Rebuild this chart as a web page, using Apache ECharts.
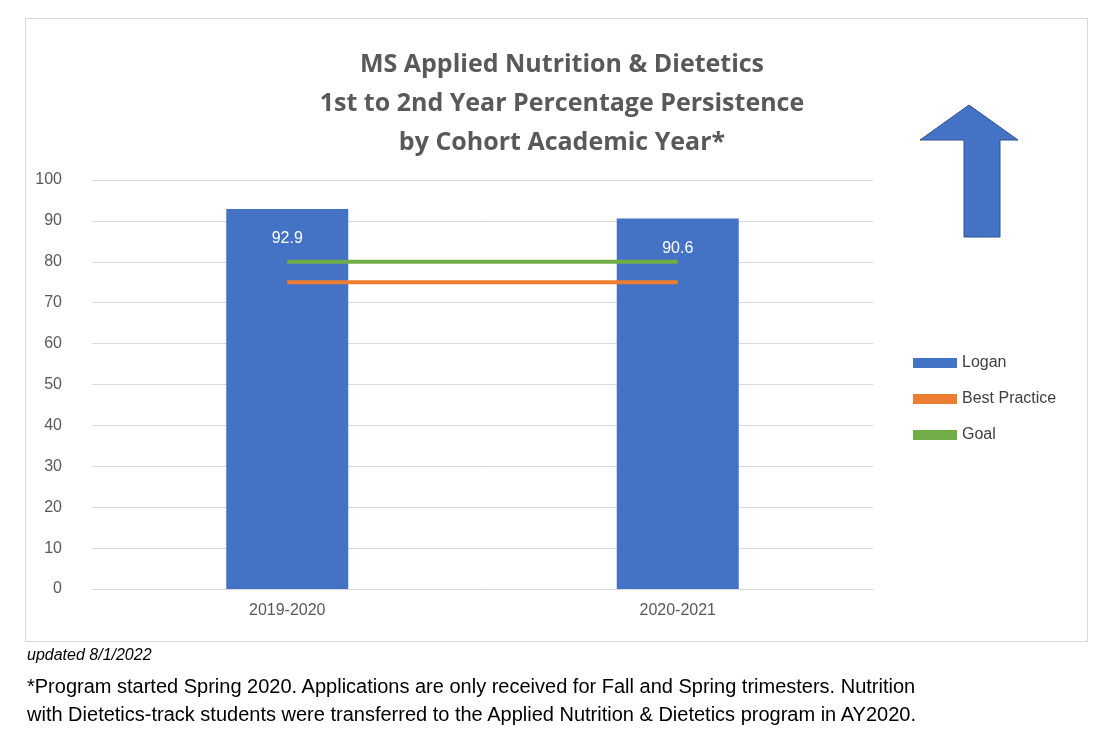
<!DOCTYPE html>
<html><head><meta charset="utf-8">
<script src="https://cdn.jsdelivr.net/npm/echarts@6/dist/echarts.min.js"></script>
<style>body{margin:0;background:#fff;font-family:Calibri,Carlito,'Liberation Sans',sans-serif}
#box{position:absolute;left:25px;top:18px;width:1061px;height:622px;border:1px solid #d9d9d9}
#c{position:absolute;left:0;top:0;width:1116px;height:751px}
.t{position:absolute;left:27px;color:#000;font-family:'Liberation Sans',Arial,sans-serif}
</style></head><body>
<div id="box"></div>
<div id="c"></div>
<div class="t" style="top:646px;font-size:16px;font-style:italic">updated 8/1/2022</div>
<div class="t" style="top:672px;font-size:20px;line-height:28px">*Program started Spring 2020. Applications are only received for Fall and Spring trimesters. Nutrition<br>with Dietetics-track students were transferred to the Applied Nutrition &amp; Dietetics program in AY2020.</div>
<script>
const categories = ['2019-2020','2020-2021'];
const logan = [92.9, 90.6];
const bestPractice = [75, 75];
const goal = [80, 80];
const chart = echarts.init(document.getElementById('c'));
chart.setOption({
  animation:false,
  title:{text:'MS Applied Nutrition & Dietetics\n1st to 2nd Year Percentage Persistence\nby Cohort Academic Year*',left:557,textAlign:'center',top:40,
    textStyle:{fontSize:25,fontWeight:'bold',color:'#595959',lineHeight:39,fontFamily:'Open Sans, Liberation Sans, sans-serif'}},
  grid:{left:92,right:243,top:180,bottom:162},
  legend:{orient:'vertical',left:908,top:350,itemGap:20,itemWidth:44,itemHeight:10,
    textStyle:{fontSize:16,color:'#404040'},
    data:[{name:'Logan',icon:'rect'},{name:'Best Practice',icon:'rect'},{name:'Goal',icon:'rect'}]},
  xAxis:{type:'category',data:categories,axisTick:{show:false},axisLine:{lineStyle:{color:'#d9d9d9'}},
    axisLabel:{color:'#595959',fontSize:16,margin:14}},
  yAxis:{type:'value',min:0,max:100,interval:10,axisLabel:{color:'#595959',fontSize:16,margin:30},
    splitLine:{lineStyle:{color:'#d9d9d9'}}},
  series:[
    {name:'Logan',type:'bar',data:logan,barWidth:122,itemStyle:{color:'#4472c4'},
     label:{show:true,position:'insideTop',distance:22,color:'#fff',fontSize:16}},
    {name:'Best Practice',type:'line',data:bestPractice,symbol:'none',lineStyle:{color:'#ed7d31',width:4},itemStyle:{color:'#ed7d31'}},
    {name:'Goal',type:'line',data:goal,symbol:'none',lineStyle:{color:'#70ad47',width:4},itemStyle:{color:'#70ad47'}}
  ],
  graphic:[{type:'polygon',shape:{points:[[969,105],[1018,140],[1000,140],[1000,237],[964,237],[964,140],[920,140]]},
    style:{fill:'#4472c4',stroke:'#2f528f',lineWidth:1}}]
});
</script></body></html>
